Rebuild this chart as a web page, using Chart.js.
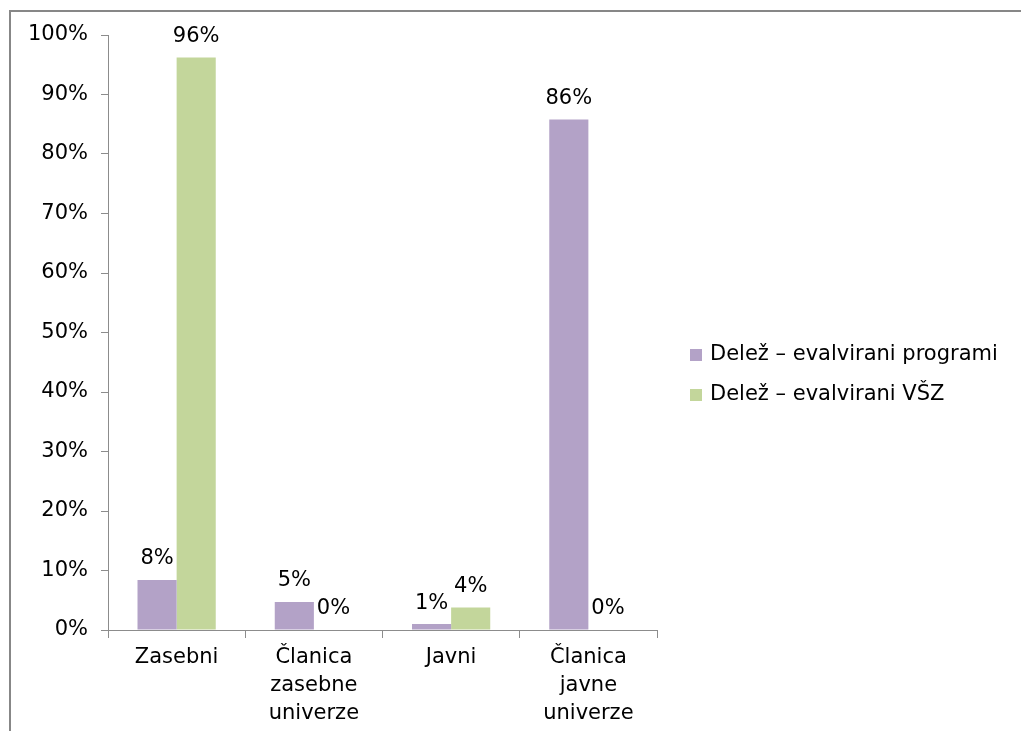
<!DOCTYPE html>
<html>
<head>
<meta charset="utf-8">
<script src="https://cdn.jsdelivr.net/npm/chart.js@4.4.0/dist/chart.umd.min.js"></script>
<style>
  html, body { margin: 0; padding: 0; background: #fff; }
  #wrap { width: 1021px; height: 731px; position: relative; }
</style>
</head>
<body>
<div id="wrap"><canvas id="myChart"></canvas></div>
<script>
const categories = [['Zasebni'], ['Članica', 'zasebne', 'univerze'], ['Javni'], ['Članica', 'javne', 'univerze']];
const seriesNames = ['Delež – evalvirani programi', 'Delež – evalvirani VŠZ'];
const programi = [8.4, 4.7, 1.0, 85.8];
const vsz = [96.2, 0, 3.8, 0];
const yTicks = [0, 10, 20, 30, 40, 50, 60, 70, 80, 90, 100];

const axisColor = '#8c8c8c';
const fontFamily = 'DejaVu Sans, Verdana, sans-serif';
const fontSize = 21;

const ctx = document.getElementById('myChart');
let myChart;

// frame around the whole chart
const framePlugin = {
    id: 'frame',
    beforeDraw(chart) {
        const c = chart.ctx;
        c.save();
        c.fillStyle = '#fff';
        c.fillRect(0, 0, chart.width, chart.height);
        c.strokeStyle = '#878787';
        c.lineWidth = 2;
        c.beginPath();
        c.moveTo(10, chart.height + 2);
        c.lineTo(10, 11);
        c.lineTo(chart.width + 2, 11);
        c.stroke();
        c.restore();
    }
};

// value labels above each bar
const valueLabels = {
    id: 'valueLabels',
    afterDatasetsDraw(chart) {
        const c = chart.ctx;
        c.save();
        c.font = fontSize + 'px ' + fontFamily;
        c.fillStyle = '#000';
        c.textAlign = 'center';
        c.textBaseline = 'middle';
        chart.data.datasets.forEach((ds, i) => {
            chart.getDatasetMeta(i).data.forEach((bar, j) => {
                c.fillText(Math.round(ds.data[j]) + '%', bar.x, bar.y - 21);
            });
        });
        c.restore();
    }
};

// legend on the right, square marker + text
const sideLegend = {
    id: 'sideLegend',
    afterDraw(chart) {
        const c = chart.ctx;
        const x = chart.chartArea.right + 33;
        let y = 355;
        c.save();
        c.font = fontSize + 'px ' + fontFamily;
        c.textBaseline = 'middle';
        c.textAlign = 'left';
        chart.data.datasets.forEach(ds => {
            c.fillStyle = ds.backgroundColor;
            c.fillRect(x, y - 6, 12, 12);
            c.fillStyle = '#000';
            c.fillText(ds.label, x + 20, y);
            y += 40;
        });
        c.restore();
    }
};

myChart = new Chart(ctx, {
    type: 'bar',
    data: {
        labels: categories,
        datasets: [{
            label: seriesNames[0],
            data: programi,
            backgroundColor: '#b3a2c7',
            categoryPercentage: 0.57,
            barPercentage: 1.0
        }, {
            label: seriesNames[1],
            data: vsz,
            backgroundColor: '#c3d69b',
            categoryPercentage: 0.57,
            barPercentage: 1.0
        }]
    },
    options: {
        responsive: true,
        maintainAspectRatio: false,
        animation: false,
        layout: {
            padding: { left: 9, top: 35, right: 364, bottom: 0 }
        },
        plugins: {
            tooltip: { enabled: false },
            legend: { display: false }
        },
        scales: {
            x: {
                grid: {
                    display: true,
                    drawOnChartArea: false,
                    color: axisColor,
                    tickLength: 8
                },
                border: { color: axisColor, width: 1 },
                ticks: {
                    color: '#000',
                    font: { size: fontSize, family: fontFamily, lineHeight: 1.33 },
                    padding: 6,
                    maxRotation: 0
                },
                afterFit(scale) { scale.height = 101; }
            },
            y: {
                min: 0,
                max: 100,
                afterBuildTicks(scale) { scale.ticks = yTicks.map(v => ({ value: v })); },
                grid: {
                    display: true,
                    drawOnChartArea: false,
                    color: axisColor,
                    tickLength: 7
                },
                border: { color: axisColor, width: 1 },
                ticks: {
                    color: '#000',
                    font: { size: fontSize, family: fontFamily },
                    padding: 13,
                    callback: v => v + '%'
                },
                afterFit(scale) { scale.width = 99; }
            }
        }
    },
    plugins: [framePlugin, valueLabels, sideLegend]
});
</script>
</body>
</html>
